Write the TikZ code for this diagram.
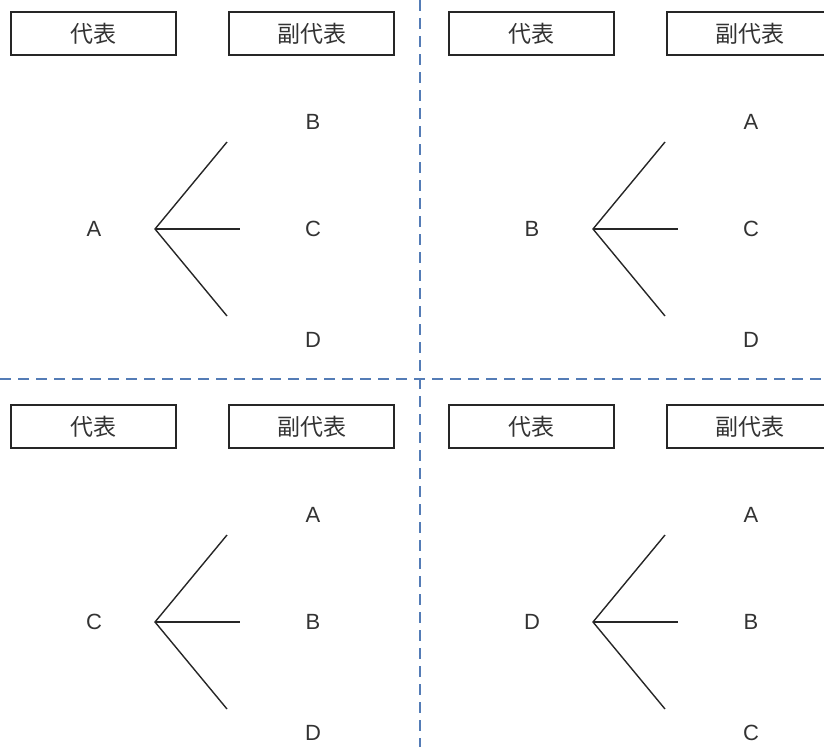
\documentclass[tikz,border=0pt]{standalone}
\usepackage{fontspec}
\setmainfont{Liberation Sans}
\newfontfamily\jpfont{Noto Sans CJK JP}
\definecolor{guideblue}{RGB}{84,124,182}

\begin{document}
\begin{tikzpicture}[x=1pt,y=-1pt,
  head/.style={draw=black!85,line width=1.2pt,minimum width=165pt,minimum height=43pt,inner sep=0pt,
    text=black!80,font=\jpfont\fontsize{23}{23}\selectfont},
  member/.style={text=black!80,font=\fontsize{22}{22}\selectfont},
  branch/.style={draw=black!85,line width=1.4pt},
  guide/.style={draw=guideblue,line width=1.3pt,dash pattern=on 11pt off 7pt}]
\useasboundingbox (0,0) rectangle (824,747);
\clip (0,0) rectangle (824,747);
% four cases: representative and the three possible vice representatives
\foreach \dx/\dy/\r/\p/\q/\s/\n in {0/0/A/B/C/D/1, 438/0/B/A/C/D/2, 0/393/C/A/B/D/3, 438/393/D/A/B/C/4} {
  \begin{scope}[shift={(\dx,\dy)}]
    \node [head] (rep\n) at (93.5,33.5) {代表};
    \node [head] (sub\n) at (311.5,33.5) {副代表};
    \node [member] (root\n) at (94,229) {\r};
    \node [member] (top\n) at (313,122) {\p};
    \node [member] (mid\n) at (313,229) {\q};
    \node [member] (low\n) at (313,340) {\s};
    \coordinate (fork\n) at (155,229);
    \coordinate (up\n) at (227,142);
    \coordinate (straight\n) at (240,229);
    \coordinate (down\n) at (227,316);
    \draw [branch] (up\n) -- (fork\n) -- (down\n);
    \draw [branch] (fork\n) -- (straight\n);
  \end{scope}
}
\coordinate (north) at (420,0);
\coordinate (south) at (420,747);
\coordinate (west) at (0,379);
\coordinate (east) at (824,379);
\draw [guide] (north) -- (south);
\draw [guide] (west) -- (east);
\end{tikzpicture}
\end{document}
